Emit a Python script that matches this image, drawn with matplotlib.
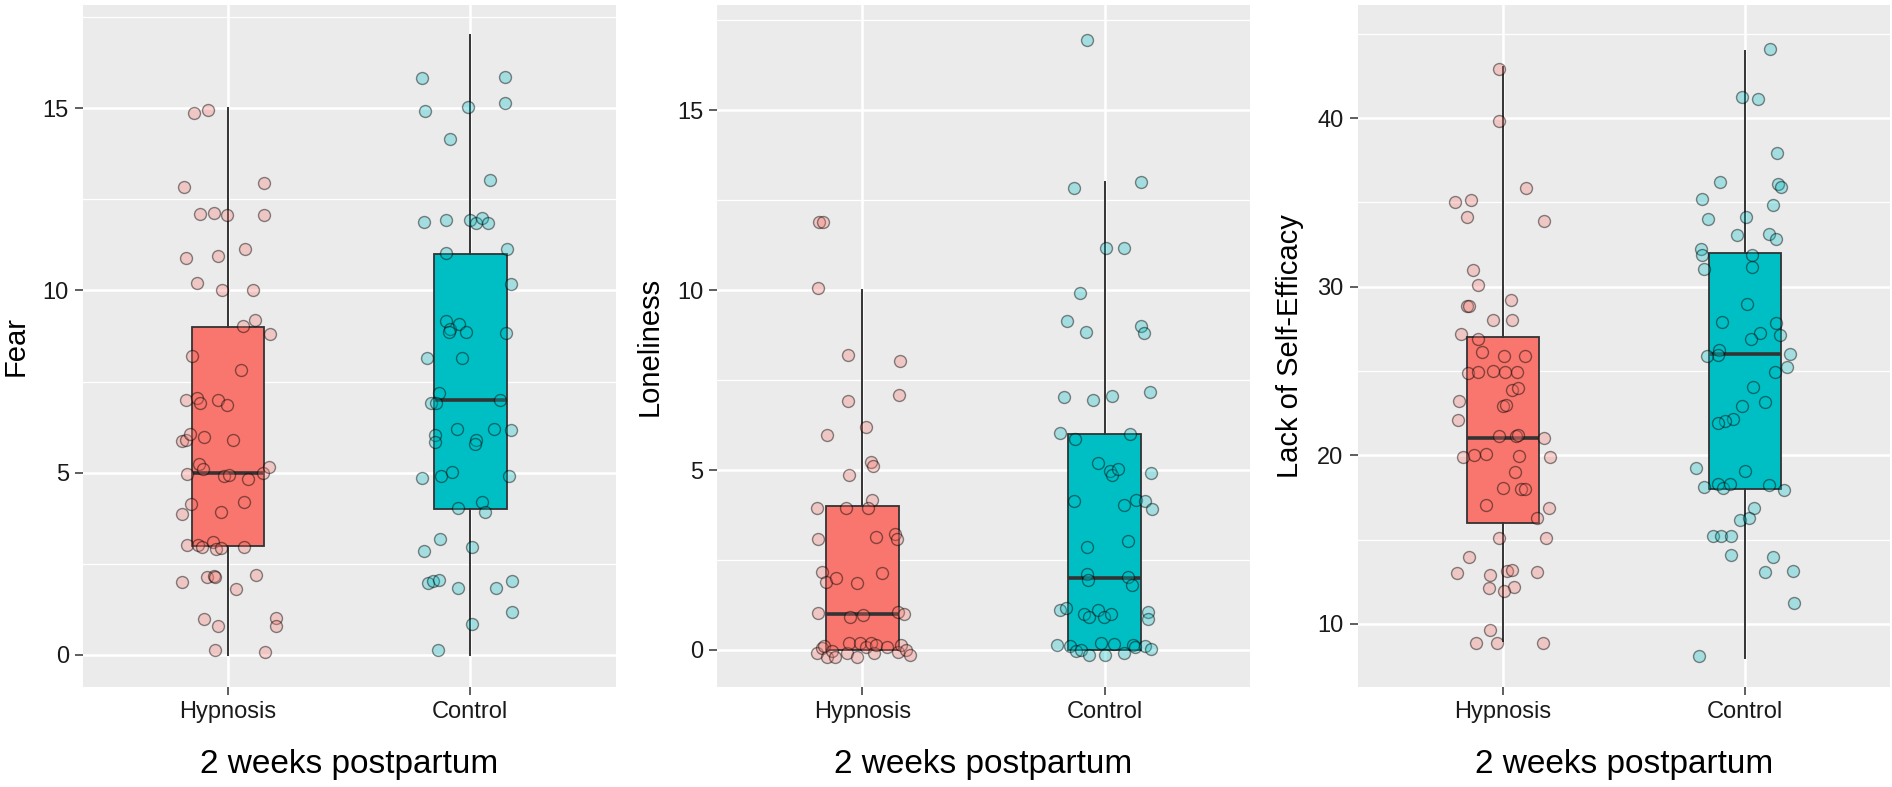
import matplotlib.pyplot as plt
from matplotlib.colors import to_rgba

plt.rcParams['font.family'] = ['Liberation Sans', 'DejaVu Sans']

groups = ["Hypnosis", "Control"]
fill_colors = ["#F8766D", "#00BFC4"]

# box statistics per group: [lower whisker, Q1, median, Q3, upper whisker]
fear_box = [[0, 3, 5, 9, 15], [0, 4, 7, 11, 17]]
lonely_box = [[0, 0, 1, 4, 10], [0, 0, 2, 6, 13]]
efficacy_box = [[9, 16, 21, 27, 43], [8, 18, 26, 32, 44]]

# jittered points: value and horizontal jitter (category units)
fear_hyp = [14.87, 14.94, 12.85, 12.95, 12.11, 12.13, 12.06, 12.06, 10.9, 10.94, 11.13, 10.2,
            10.02, 10.02, 9.2, 9.02, 8.81, 8.19, 7.82, 7.0, 7.06, 6.9, 7.0, 6.87, 5.87, 5.9,
            6.05, 5.98, 5.91, 4.97, 5.23, 5.09, 4.91, 4.94, 4.83, 4.98, 5.16, 4.14, 3.87, 3.91,
            4.19, 3.02, 3.03, 2.96, 3.11, 2.9, 2.93, 2.96, 1.99, 2.15, 2.17, 2.13, 2.19, 1.81,
            1.0, 0.8, 1.02, 0.8, 0.14, 0.09]
fear_hyp_dx = [-0.14, -0.082, -0.18, 0.149, -0.117, -0.059, -0.006, 0.15, -0.175, -0.041, 0.071,
               -0.129, -0.023, 0.105, 0.111, 0.06, 0.175, -0.148, 0.055, -0.175, -0.13, -0.115,
               -0.041, -0.006, -0.192, -0.174, -0.158, -0.1, 0.022, -0.169, -0.121, -0.103,
               -0.016, 0.003, 0.082, 0.144, 0.168, -0.154, -0.192, -0.028, 0.064, -0.171, -0.123,
               -0.106, -0.062, -0.048, -0.028, 0.066, -0.192, -0.085, -0.058, -0.052, 0.116,
               0.033, -0.1, -0.041, 0.199, 0.199, -0.052, 0.153]
fear_ctl = [15.83, 15.86, 14.93, 15.03, 15.13, 14.16, 13.04, 11.88, 11.92, 11.92, 11.84, 11.99,
            11.84, 11.03, 11.15, 10.19, 9.17, 8.93, 8.87, 9.08, 8.86, 8.84, 8.14, 8.14, 7.2, 6.92,
            6.9, 6.99, 6.03, 5.85, 6.2, 5.91, 5.8, 6.2, 6.17, 4.85, 4.91, 5.03, 4.92, 4.03, 4.19,
            3.91, 3.17, 2.86, 2.95, 1.97, 2.02, 2.07, 1.84, 1.84, 2.02, 1.19, 0.84, 0.15]
fear_ctl_dx = [-0.2, 0.144, -0.185, -0.01, 0.144, -0.085, 0.082, -0.19, -0.099, 0.0, 0.025,
               0.048, 0.075, -0.1, 0.15, 0.17, -0.1, -0.082, -0.088, -0.048, -0.018, 0.149,
               -0.18, -0.033, -0.13, -0.164, -0.141, 0.123, -0.147, -0.147, -0.055, 0.022,
               0.018, 0.096, 0.167, -0.2, -0.12, -0.075, 0.16, -0.05, 0.048, 0.059, -0.127,
               -0.19, 0.007, -0.175, -0.153, -0.13, -0.052, 0.107, 0.174, 0.171, 0.008, -0.133]

lonely_hyp = [11.9, 11.9, 10.06, 8.21, 8.04, 6.92, 7.08, 6.2, 5.98, 5.23, 5.11, 4.87, 4.17, 3.95,
              3.94, 3.94, 3.07, 3.13, 3.21, 3.09, 2.18, 1.88, 1.99, 1.87, 2.15, 1.04, 0.93, 0.96,
              1.06, 1.0, -0.09, 0.05, 0.11, -0.2, -0.02, -0.19, -0.09, 0.19, -0.19, 0.19, 0.09,
              0.19, -0.09, 0.14, 0.09, -0.05, 0.14, 0.0, -0.14]
lonely_hyp_dx = [-0.178, -0.162, -0.185, -0.058, 0.156, -0.06, 0.151, 0.016, -0.148, 0.037, 0.044,
                 -0.055, 0.041, -0.186, -0.066, 0.022, -0.185, 0.055, 0.133, 0.144, -0.166,
                 -0.151, -0.11, -0.022, 0.082, -0.182, -0.052, 0.003, 0.147, 0.173, -0.189,
                 -0.168, -0.158, -0.145, -0.127, -0.114, -0.063, -0.055, -0.022, -0.008, 0.016,
                 0.037, 0.047, 0.055, 0.101, 0.147, 0.16, 0.178, 0.197]
lonely_ctl = [16.95, 12.85, 13.01, 11.17, 11.17, 9.92, 9.15, 8.84, 9.01, 8.82, 7.02, 6.95, 7.06,
              7.18, 6.02, 5.87, 6.0, 5.19, 4.96, 4.87, 5.03, 4.92, 4.13, 4.03, 4.17, 4.14, 3.93,
              2.87, 3.02, 2.11, 1.95, 2.04, 1.81, 1.11, 1.17, 0.99, 0.92, 1.12, 0.93, 1.0, 1.06,
              0.86, 0.14, 0.1, -0.04, 0.0, -0.15, 0.2, -0.13, 0.16, -0.09, 0.14, 0.08, 0.1, 0.02]
lonely_ctl_dx = [-0.073, -0.125, 0.148, 0.007, 0.079, -0.101, -0.156, -0.077, 0.148, 0.163,
                 -0.17, -0.048, 0.03, 0.189, -0.184, -0.121, 0.105, -0.026, 0.022, 0.032, 0.056,
                 0.192, -0.126, 0.081, 0.13, 0.167, 0.196, -0.071, 0.095, -0.071, -0.067, 0.096,
                 0.114, -0.185, -0.16, -0.085, -0.064, -0.026, -0.003, 0.026, 0.177, 0.179,
                 -0.195, -0.142, -0.119, -0.099, -0.064, -0.016, 0.0, 0.038, 0.079, 0.116, 0.127,
                 0.168, 0.193]

efficacy_hyp = [42.92, 39.85, 35.83, 35.03, 35.15, 34.14, 33.87, 31.01, 30.12, 28.87, 28.87, 29.2,
                28.0, 28.0, 27.2, 26.88, 26.1, 25.89, 25.89, 24.88, 24.94, 25.0, 24.94, 24.94,
                23.84, 23.99, 23.24, 22.89, 22.98, 22.08, 21.16, 21.16, 21.22, 21.0, 19.88, 20.0,
                20.06, 19.97, 19.88, 19.02, 18.04, 17.98, 17.98, 17.02, 16.25, 16.88, 15.09,
                15.09, 13.96, 13.01, 12.92, 13.15, 13.21, 13.1, 12.11, 12.2, 11.96, 9.64, 8.89,
                8.87, 8.89]
efficacy_hyp_dx = [-0.014, -0.018, 0.094, -0.196, -0.13, -0.148, 0.168, -0.123, -0.102, -0.146,
                   -0.138, 0.034, -0.041, 0.037, -0.171, -0.103, -0.087, 0.003, 0.091, -0.142,
                   -0.103, -0.04, 0.007, 0.057, 0.039, 0.062, -0.182, 0.0, 0.014, -0.185, -0.014,
                   0.055, 0.062, 0.171, -0.163, -0.121, -0.07, 0.065, 0.193, 0.051, 0.0, 0.076,
                   0.092, -0.069, 0.141, 0.189, -0.017, 0.177, -0.141, -0.19, -0.054, 0.018,
                   0.037, 0.142, -0.057, 0.044, 0.004, -0.055, -0.11, -0.023, 0.166]
efficacy_ctl = [44.1, 41.25, 41.13, 37.95, 36.19, 36.07, 35.89, 35.18, 34.85, 33.99, 34.1, 33.07,
                33.13, 32.83, 32.23, 31.9, 31.07, 31.9, 31.19, 28.99, 27.89, 27.83, 27.23, 26.9,
                27.11, 26.25, 25.95, 25.86, 26.01, 25.21, 24.91, 24.05, 23.15, 22.89, 22.14,
                22.05, 21.9, 19.23, 19.08, 18.13, 18.27, 18.07, 18.27, 18.21, 17.92, 16.88, 16.13,
                16.25, 15.21, 15.21, 15.21, 14.11, 13.96, 13.07, 13.13, 11.22, 8.1]
efficacy_ctl_dx = [0.101, -0.014, 0.052, 0.131, -0.103, 0.135, 0.149, -0.177, 0.113, -0.153,
                   0.003, -0.034, 0.097, 0.128, -0.182, -0.179, -0.168, 0.03, 0.028, 0.007,
                   -0.097, 0.128, 0.062, 0.025, 0.142, -0.106, -0.11, -0.159, 0.186, 0.172, 0.124,
                   0.032, 0.08, -0.014, -0.052, -0.083, -0.113, -0.203, 0.0, -0.168, -0.113,
                   -0.092, -0.062, 0.097, 0.161, 0.037, -0.021, 0.014, -0.131, -0.099, -0.059,
                   -0.058, 0.113, 0.08, 0.197, 0.201, -0.189]

panels = [
    ("Fear", fear_box, [fear_hyp, fear_ctl], [fear_hyp_dx, fear_ctl_dx],
     (-0.88, 17.83), [0, 5, 10, 15], [2.5, 7.5, 12.5, 17.5]),
    ("Loneliness", lonely_box, [lonely_hyp, lonely_ctl], [lonely_hyp_dx, lonely_ctl_dx],
     (-1.03, 17.92), [0, 5, 10, 15], [2.5, 7.5, 12.5, 17.5]),
    ("Lack of Self-Efficacy", efficacy_box, [efficacy_hyp, efficacy_ctl],
     [efficacy_hyp_dx, efficacy_ctl_dx], (6.25, 46.7), [10, 20, 30, 40], [15, 25, 35, 45]),
]

fig = plt.figure(figsize=(18.92, 7.87), dpi=100)
lefts = [0.0437, 0.379, 0.7175]

for left, (ylab, box, ys, dxs, ylim, major, minor) in zip(lefts, panels):
    ax = fig.add_axes([left, 0.127, 0.2817, 0.8666])
    ax.set_facecolor("#EBEBEB")
    for s in ax.spines.values():
        s.set_visible(False)

    stats = []
    for g, b in zip(groups, box):
        stats.append(dict(label=g, whislo=b[0], q1=b[1], med=b[2], q3=b[3], whishi=b[4]))
    bp = ax.bxp(stats, positions=[1, 2], widths=0.3, showfliers=False, showcaps=False,
                patch_artist=True,
                boxprops=dict(edgecolor="#333333", linewidth=1.3),
                medianprops=dict(color="#333333", linewidth=2.6),
                whiskerprops=dict(color="#333333", linewidth=1.4))
    for patch, c in zip(bp["boxes"], fill_colors):
        patch.set_facecolor(c)
        patch.set_zorder(2)

    # jittered points: translucent fill, darker translucent outline
    for i, (y, dx, c) in enumerate(zip(ys, dxs, fill_colors)):
        xs = [i + 1 + d for d in dx]
        ax.scatter(xs, y, s=74, facecolor=to_rgba(c, 0.3), edgecolors=(0, 0, 0, 0.45),
                   linewidths=1.0, zorder=3)

    ax.set_xlim(0.4, 2.6)
    ax.set_ylim(*ylim)
    ax.set_xticks([1, 2])
    ax.set_xticklabels(groups)
    ax.set_yticks(major)
    ax.set_yticks(minor, minor=True)
    ax.set_axisbelow(True)
    ax.grid(which="major", color="white", linewidth=1.8)
    ax.grid(which="minor", axis="y", color="white", linewidth=0.9)
    ax.tick_params(which="major", length=6, width=1.1, color="#333333", labelsize=17,
                   labelcolor="#1A1A1A", pad=4)
    ax.tick_params(which="minor", length=0)

    ax.set_ylabel(ylab, fontsize=21, color="black")
    ax.yaxis.label.set_verticalalignment("center")
    ax.yaxis.set_label_coords(-0.126, 0.5)
    ax.set_xlabel("2 weeks postpartum", fontsize=24, color="black")
    ax.xaxis.label.set_verticalalignment("center")
    ax.xaxis.set_label_coords(0.5, -0.113)

fig.savefig("out.png", dpi=100, facecolor="white")
